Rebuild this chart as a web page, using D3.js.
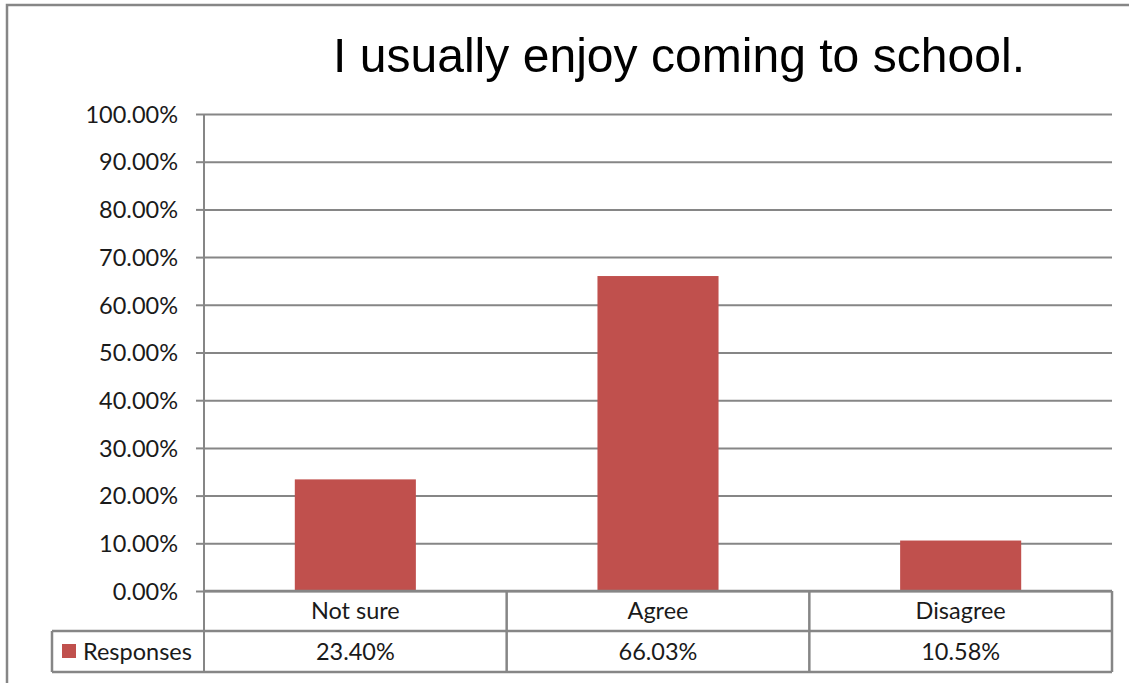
<!DOCTYPE html>
<html><head><meta charset="utf-8">
<script src="https://cdn.jsdelivr.net/npm/d3@7"></script>
<style>body{margin:0;background:#fff}svg{display:block}</style>
</head><body>
<svg id="c" width="1129" height="683"></svg>
<script>
const title = "I usually enjoy coming to school.";
const categories = ["Not sure", "Agree", "Disagree"];
const seriesName = "Responses";
const values = [23.40, 66.03, 10.58];
const valueLabels = ["23.40%", "66.03%", "10.58%"];
const yTicks = [0,10,20,30,40,50,60,70,80,90,100];

(function(){
const svg = d3.select("#c");
const gray = "#868686";
const pLeft = 204, pRight = 1112, pTop = 114, pBottom = 591;
const font = "Lato, 'Open Sans', sans-serif";
const fs = 23.5;
const txt = "#1a1a1a";

// outer border
svg.append("rect").attr("x",7).attr("y",5).attr("width",1200).attr("height",720)
  .attr("fill","none").attr("stroke",gray).attr("stroke-width",2.5);

svg.append("text").attr("x",333).attr("y",72).text(title)
  .attr("font-family","'Liberation Sans', Arial, sans-serif").attr("font-size",48)
  .attr("textLength",692).attr("lengthAdjust","spacingAndGlyphs").attr("fill","#000");

const y = d3.scaleLinear().domain([0,100]).range([pBottom, pTop]);
const x = d3.scaleBand().domain(categories).range([pLeft, pRight]).padding(0);

// gridlines
const yAxis = d3.axisLeft(y).tickValues(yTicks).tickSize(-(pRight-pLeft)).tickPadding(26)
  .tickFormat(d => d.toFixed(2) + "%");
const ga = svg.append("g").attr("transform",`translate(${pLeft},0)`).call(yAxis);
ga.select(".domain").remove();
ga.selectAll(".tick line").attr("stroke",gray).attr("stroke-width",2);
ga.selectAll(".tick").append("line").attr("x1",-8).attr("x2",0).attr("stroke",gray).attr("stroke-width",2);
ga.selectAll(".tick text").attr("font-family",font).attr("font-size",fs).attr("fill",txt).attr("dy","0.35em");

// bars
const bw = x.bandwidth()*0.4;
svg.append("g").selectAll("rect").data(values).join("rect")
  .attr("x",(d,i)=>x(categories[i]) + x.bandwidth()/2 - bw/2)
  .attr("width",bw)
  .attr("y",d=>y(d)).attr("height",d=>y(0)-y(d))
  .attr("fill","#C0504D");

// y axis line
svg.append("line").attr("x1",pLeft).attr("x2",pLeft).attr("y1",pTop).attr("y2",672)
  .attr("stroke",gray).attr("stroke-width",2);

// data table
const rowMid = 631, rowBot = 672;
const tg = svg.append("g").attr("stroke",gray).attr("stroke-width",2.5).attr("fill","none");
tg.append("line").attr("x1",pLeft).attr("x2",pRight).attr("y1",pBottom).attr("y2",pBottom);
tg.append("line").attr("x1",52).attr("x2",pRight).attr("y1",rowMid).attr("y2",rowMid);
tg.append("line").attr("x1",52).attr("x2",pRight).attr("y1",rowBot).attr("y2",rowBot);
tg.append("line").attr("x1",52).attr("x2",52).attr("y1",rowMid).attr("y2",rowBot);
categories.forEach((c,i)=>{
  const xr = x(c)+x.bandwidth();
  tg.append("line").attr("x1",xr).attr("x2",xr).attr("y1",pBottom).attr("y2",rowBot);
});

categories.forEach((c,i)=>{
  const cx = x(c)+x.bandwidth()/2;
  svg.append("text").attr("x",cx).attr("y",(pBottom+rowMid)/2).attr("dy","0.35em")
    .attr("text-anchor","middle").attr("font-family",font).attr("font-size",fs).attr("fill",txt).text(c);
  svg.append("text").attr("x",cx).attr("y",(rowMid+rowBot)/2).attr("dy","0.35em")
    .attr("text-anchor","middle").attr("font-family",font).attr("font-size",fs).attr("fill",txt).text(valueLabels[i]);
});
svg.append("rect").attr("x",62).attr("y",644).attr("width",14).attr("height",14).attr("fill","#C0504D");
svg.append("text").attr("x",83).attr("y",(rowMid+rowBot)/2).attr("dy","0.35em")
  .attr("font-family",font).attr("font-size",fs).attr("fill",txt).text(seriesName);
})();
</script>
</body></html>
